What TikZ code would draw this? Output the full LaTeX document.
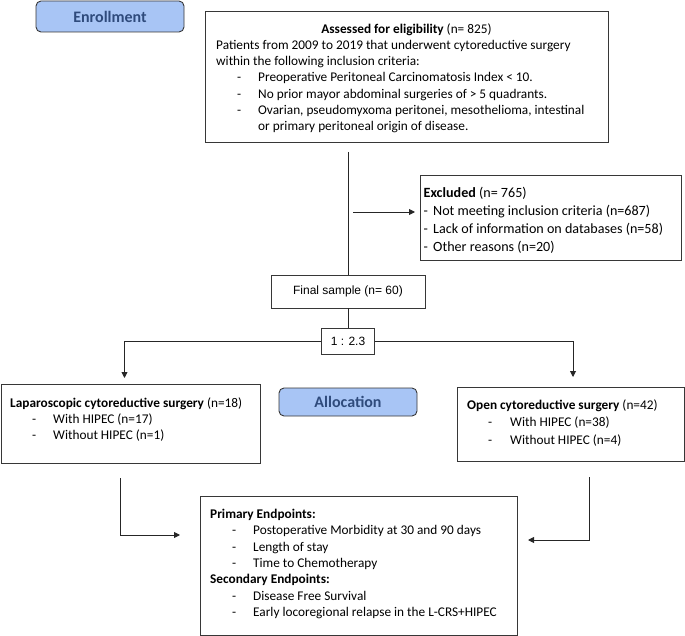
\documentclass[tikz,border=0pt]{standalone}
\usepackage{fontspec}
\setmainfont{Carlito}
\newfontfamily\arialf{Liberation Sans}
\usetikzlibrary{arrows.meta}
\definecolor{phasefill}{RGB}{168,197,245}
\definecolor{phasetext}{RGB}{47,75,124}
\definecolor{edge}{RGB}{55,55,55}
\newcommand\dashitem[3]{\hbox{\kern#1\makebox[#2][l]{-}#3}}
\begin{document}
\begin{tikzpicture}[x=1pt,y=-1pt,
  box/.style={draw=edge, line width=0.9pt, inner sep=0pt, anchor=north west},
  lbl/.style={inner sep=0pt, anchor=base west, font=\fontsize{13.3}{16.2}\selectfont},
  conn/.style={line width=0.9pt, black!85},
  arr/.style={conn, -{Triangle[length=6pt,width=6pt]}},
  phase/.style={draw=edge, fill=phasefill, rounded corners=5pt, line width=0.9pt, inner sep=0pt,
    font=\fontsize{16}{19}\selectfont\bfseries, text=phasetext}]
\useasboundingbox (0,0) rectangle (685,636);

% phase labels
\node[phase, minimum width=148pt, minimum height=31pt] (enroll) at (110,16.5) {Enrollment};
\node[phase, minimum width=138pt, minimum height=28pt] (alloc) at (348,402) {Allocation};

% assessed
\node[box, minimum width=403pt, minimum height=131pt] (assess) at (205,11) {};
\node[inner sep=0pt, anchor=base, font=\fontsize{13.3}{16.2}\selectfont] (assesstitle) at (406.5,33.3)
  {\textbf{Assessed for eligibility} (n= 825)};
\node[lbl] (assesstext) at (216,49.5) {\vtop{\baselineskip=16.2pt
  \hbox{Patients from 2009 to 2019 that underwent cytoreductive surgery}
  \hbox{within the following inclusion criteria:}
  \dashitem{21pt}{21pt}{Preoperative Peritoneal Carcinomatosis Index < 10.}
  \dashitem{21pt}{21pt}{No prior mayor abdominal surgeries of > 5 quadrants.}
  \dashitem{21pt}{21pt}{Ovarian, pseudomyxoma peritonei, mesothelioma, intestinal}
  \hbox{\kern42pt or primary peritoneal origin of disease.}}};

% excluded
\node[box, minimum width=261pt, minimum height=85pt] (excl) at (420,175) {};
\node[lbl, font=\fontsize{14.1}{18}\selectfont] (excltext) at (423.5,198) {\vtop{\baselineskip=18pt
  \hbox{\textbf{Excluded} (n= 765)}
  \dashitem{0pt}{9.5pt}{Not meeting inclusion criteria (n=687)}
  \dashitem{0pt}{9.5pt}{Lack of information on databases (n=58)}
  \dashitem{0pt}{9.5pt}{Other reasons (n=20)}}};

% final sample
\node[box, anchor=center, minimum width=154pt, minimum height=33pt, font=\arialf\fontsize{12}{14}\selectfont]
  (final) at (348,291.5) {Final sample (n= 60)};
\node[box, anchor=center, minimum width=53pt, minimum height=26pt, font=\arialf\fontsize{12}{14}\selectfont]
  (ratio) at (348,341) {1 : 2.3};

% arms
\node[box, minimum width=259pt, minimum height=79pt] (lap) at (0.5,384) {};
\node[lbl] (laptext) at (10,407) {\vtop{\baselineskip=16pt
  \hbox{\textbf{Laparoscopic cytoreductive surgery} (n=18)}
  \dashitem{22pt}{21pt}{With HIPEC (n=17)}
  \dashitem{22pt}{21pt}{Without HIPEC (n=1)}}};
\node[box, minimum width=227pt, minimum height=74pt] (open) at (457,387) {};
\node[lbl] (opentext) at (467,409.3) {\vtop{\baselineskip=17.5pt
  \hbox{\textbf{Open cytoreductive surgery} (n=42)}
  \dashitem{21pt}{22pt}{With HIPEC (n=38)}
  \dashitem{21pt}{22pt}{Without HIPEC (n=4)}}};

% endpoints
\node[box, minimum width=317pt, minimum height=139pt] (endp) at (200,496) {};
\node[lbl] (endptext) at (210,518.3) {\vtop{\baselineskip=16.4pt
  \hbox{\textbf{Primary Endpoints:}}
  \dashitem{22pt}{21pt}{Postoperative Morbidity at 30 and 90 days}
  \dashitem{22pt}{21pt}{Length of stay}
  \dashitem{22pt}{21pt}{Time to Chemotherapy}
  \hbox{\textbf{Secondary Endpoints:}}
  \dashitem{22pt}{21pt}{Disease Free Survival}
  \dashitem{22pt}{21pt}{Early locoregional relapse in the L-CRS+HIPEC}}};

% connectors
\coordinate (v1) at (348,152);
\draw[conn] (v1) -- (final.north);
\coordinate (e1) at (353,212);
\draw[arr, shorten >=5pt] (e1) -- (e1 -| excl.west);
\draw[conn] (final.south) -- (ratio.north);
\draw[arr, shorten >=6pt] (ratio.west) -| ([xshift=124pt]lap.north west);
\draw[arr, shorten >=10pt] (ratio.east) -| ([xshift=116pt]open.north west);
\coordinate (l1) at (120,478);
\coordinate (l2) at (180,535);
\draw[arr] (l1) |- (l2);
\coordinate (o1) at (589,477);
\coordinate (o2) at (528,540);
\draw[arr] (o1) |- (o2);
\end{tikzpicture}
\end{document}
